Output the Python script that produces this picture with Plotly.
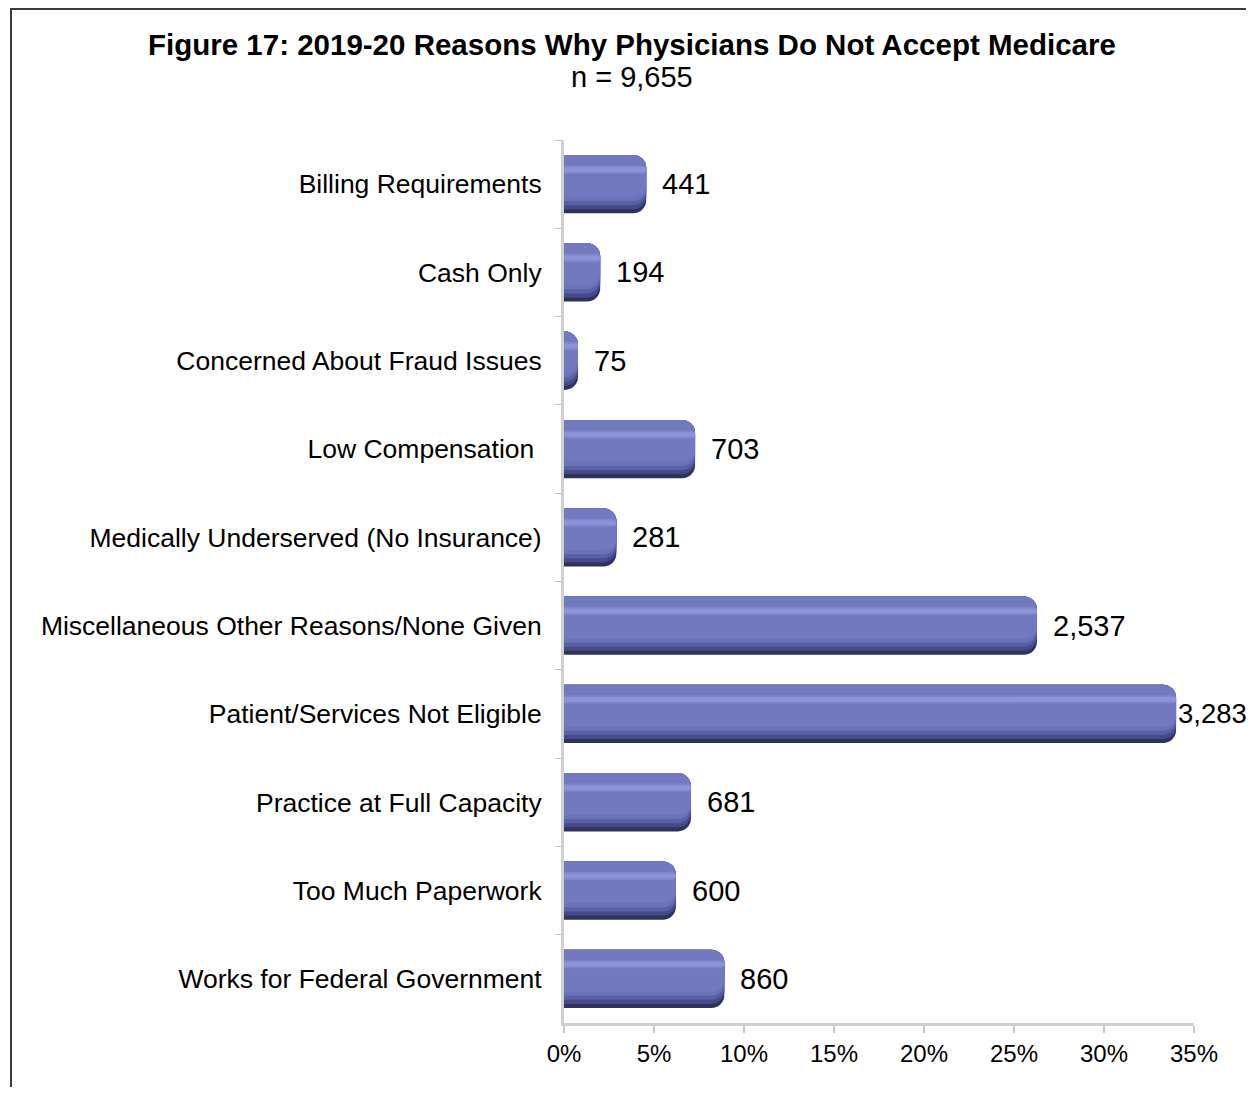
import plotly.graph_objects as go

categories = [
    "Billing Requirements",
    "Cash Only",
    "Concerned About Fraud Issues",
    "Low Compensation ",
    "Medically Underserved (No Insurance)",
    "Miscellaneous Other Reasons/None Given",
    "Patient/Services Not Eligible",
    "Practice at Full Capacity",
    "Too Much Paperwork",
    "Works for Federal Government",
]
counts = [441, 194, 75, 703, 281, 2537, 3283, 681, 600, 860]
total_n = 9655
x_ticks = [0, 5, 10, 15, 20, 25, 30, 35]

pct = [c / total_n * 100 for c in counts]
FONT = "Liberation Sans, Arial, sans-serif"

fig = go.Figure()

BW = 0.66
half = BW / 2
R = 13
# layered bars imitating the bevelled 3D look (top of bar = smaller y on the reversed axis)
layers = [
    (0.0, 1.00, "#2E325E"),   # dark bottom edge
    (0.0, 0.93, "#444B88"),
    (0.0, 0.86, "#5960A3"),
    (0.0, 0.79, "#6A72B8"),
    (0.0, 0.72, "#7279BF"),   # main body
    (0.18, 0.14, "#7F87CB"),  # soft highlight band
    (0.21, 0.08, "#8C94D7"),
]
for start, frac, col in layers:
    fig.add_trace(go.Bar(
        y=categories, x=pct, orientation="h",
        width=BW * frac, offset=-half + BW * start,
        marker=dict(color=col, line=dict(width=0), cornerradius=R),
        hoverinfo="skip", showlegend=False,
    ))

for cat, p, c in zip(categories, pct, counts):
    near_edge = p > 30
    fig.add_annotation(
        x=p, y=cat, xref="x", yref="y",
        text=f"{c:,}", showarrow=False,
        xanchor="left", yanchor="middle",
        xshift=0 if near_edge else 14,
        font=dict(family=FONT, size=27.5 if near_edge else 29, color="#000000"),
    )

# Title lines
fig.add_annotation(
    x=0.108, y=1.1087, xref="paper", yref="paper",
    text="<b>Figure 17: 2019-20 Reasons Why Physicians Do Not Accept Medicare</b>",
    showarrow=False, xanchor="center", yanchor="middle",
    font=dict(family=FONT, size=29.5, color="#000000"),
)
fig.add_annotation(
    x=0.108, y=1.0713, xref="paper", yref="paper",
    text="n = 9,655", showarrow=False, xanchor="center", yanchor="middle",
    font=dict(family=FONT, size=29, color="#000000"),
)

# outer border (cropped at right and bottom)
fig.add_shape(
    type="rect", xref="paper", yref="paper",
    x0=-0.8778, x1=2.0, y0=-2.0, y1=1.1484,
    line=dict(color="#3C3C3C", width=2), fillcolor="rgba(0,0,0,0)", layer="below",
)

fig.update_layout(
    width=1246, height=1079,
    margin=dict(l=556, r=60, t=132, b=64),
    paper_bgcolor="white", plot_bgcolor="white",
    barmode="overlay",
    font=dict(family=FONT, color="#000000"),
    xaxis=dict(
        range=[0, 35], tickvals=x_ticks, ticktext=[f"{t}%" for t in x_ticks],
        showgrid=False, zeroline=False,
        showline=True, linecolor="#D0D0D0", linewidth=3,
        ticks="outside", ticklen=7, tickwidth=2, tickcolor="#C8C8C8",
        tickfont=dict(family=FONT, size=24, color="#000000"),
    ),
    yaxis=dict(
        autorange="reversed", showgrid=False, zeroline=False,
        showline=True, linecolor="#D0D0D0", linewidth=3,
        ticks="outside", ticklen=6, tickwidth=1, tickcolor="#BDBDBD",
        tickson="boundaries", ticklabelstandoff=14,
        tickfont=dict(family=FONT, size=26.5, color="#000000"),
    ),
)

fig.write_html("out.html")
